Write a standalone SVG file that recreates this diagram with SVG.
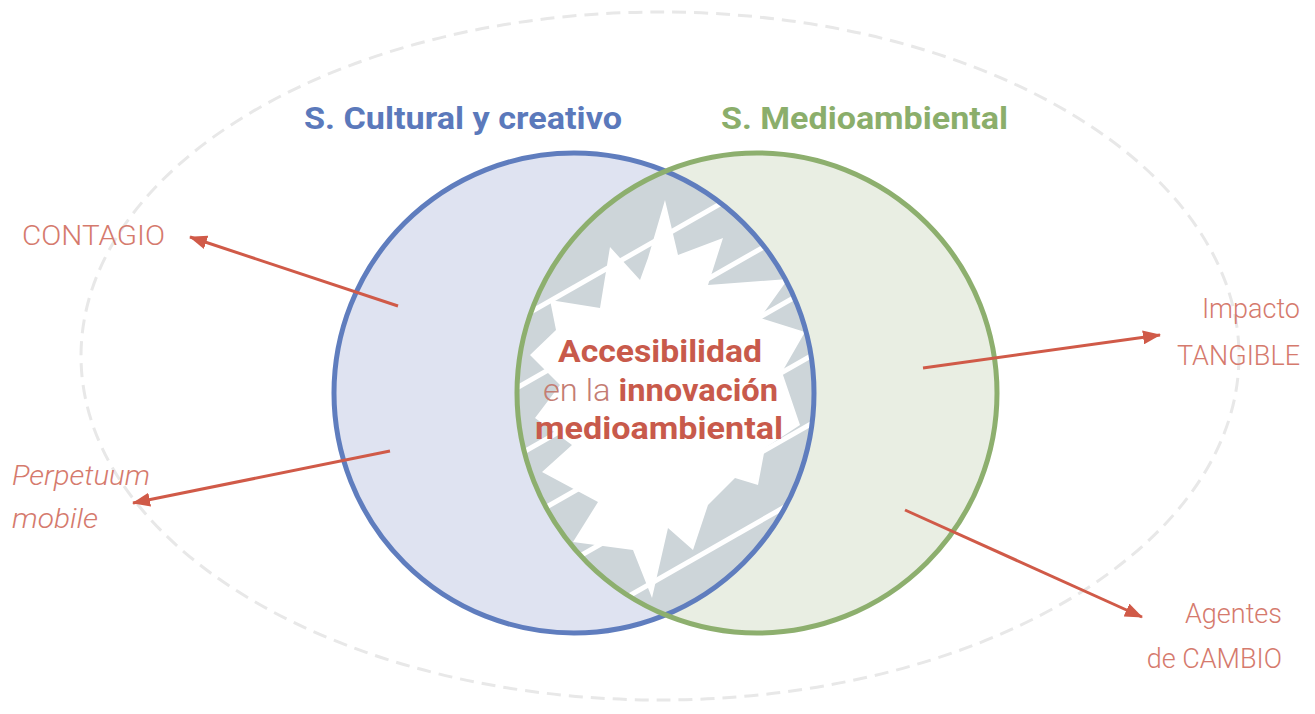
<svg xmlns="http://www.w3.org/2000/svg" width="1315" height="714" viewBox="0 0 1315 714">
<style>
.title{font-family:Roboto,"Liberation Sans",sans-serif;font-weight:700;font-size:32px}
.lbl{font-family:Roboto,"Liberation Sans",sans-serif;font-weight:300;font-size:27px;fill:#d57a6d}
.ctr{font-family:Roboto,"Liberation Sans",sans-serif;font-weight:700;font-size:31px;fill:#c85a4b;text-anchor:middle}
.thin{font-weight:300;fill:#c47d73}
.arrow{stroke:#d05a48;stroke-width:3;fill:none;marker-end:url(#ah)}
.stripe{stroke:#ffffff;stroke-width:5}
</style>
<defs>
<marker id="ah" viewBox="0 0 18 14" refX="17" refY="7" markerWidth="18" markerHeight="14" markerUnits="userSpaceOnUse" orient="auto">
<path d="M0,0 L18,7 L0,14 z" fill="#d05a48"/>
</marker>
<clipPath id="lensClip">
<path d="M665.5,171 A240,240 0 0 1 665.5,615 A240,240 0 0 1 665.5,171 Z"/>
</clipPath>
</defs>
<rect width="1315" height="714" fill="#ffffff"/>
<g id="outer">
<ellipse cx="660" cy="356" rx="579" ry="344" fill="none" stroke="#e8e8e8" stroke-width="3" stroke-dasharray="14 8"/>
</g>
<g id="sector-cultural">
<circle cx="574" cy="393" r="240" fill="#dfe3f1"/>
</g>
<g id="sector-medioambiental">
<circle cx="757" cy="393" r="240" fill="#e9eee3"/>
</g>
<g id="lens" clip-path="url(#lensClip)">
<rect x="500" y="160" width="330" height="470" fill="#cdd5d9"/>
<g class="stripe">
<line x1="480" y1="273" x2="860" y2="56"/>
<line x1="480" y1="341" x2="860" y2="124"/>
<line x1="480" y1="409" x2="860" y2="192"/>
<line x1="480" y1="477" x2="860" y2="260"/>
<line x1="480" y1="545" x2="860" y2="328"/>
<line x1="480" y1="613" x2="860" y2="396"/>
<line x1="480" y1="681" x2="860" y2="464"/>
<line x1="480" y1="749" x2="860" y2="532"/>
</g>
<polygon fill="#ffffff" points="665,200 678,255 723,238 708,285 788,279 760,318 805,332 782,372 800,425 765,448 758,485 735,478 708,505 693,550 668,528 652,598 633,550 573,542 598,502 542,472 572,445 535,418 560,385 530,355 556,330 550,300 600,308 610,247 640,280 648,258"/>
</g>
<g id="outlines" fill="none" stroke-width="5">
<circle cx="574" cy="393" r="240" stroke="#5f7dbe"/>
<circle cx="757" cy="393" r="240" stroke="#8daf6e"/>
</g>
<g id="titles">
<text class="title" x="304" y="129" fill="#5b79bb" textLength="318" lengthAdjust="spacingAndGlyphs">S. Cultural y creativo</text>
<text class="title" x="721" y="129" fill="#8bae6b" textLength="287" lengthAdjust="spacingAndGlyphs">S. Medioambiental</text>
</g>
<g id="center-label">
<text class="ctr" x="660" y="362" textLength="204" lengthAdjust="spacingAndGlyphs">Accesibilidad</text>
<text class="ctr" x="660.5" y="401" textLength="235" lengthAdjust="spacingAndGlyphs"><tspan class="thin">en la </tspan>innovación</text>
<text class="ctr" x="659" y="439" textLength="248" lengthAdjust="spacingAndGlyphs">medioambiental</text>
</g>
<g id="connectors">
<line class="arrow" x1="398" y1="306" x2="190" y2="237"/>
<line class="arrow" x1="390" y1="451" x2="133" y2="503"/>
<line class="arrow" x1="923" y1="368" x2="1160" y2="335"/>
<line class="arrow" x1="905" y1="510" x2="1142" y2="617"/>
</g>
<g id="label-contagio">
<text class="lbl" x="22" y="245" textLength="143" lengthAdjust="spacingAndGlyphs">CONTAGIO</text>
</g>
<g id="label-perpetuum">
<text class="lbl" x="12" y="485" font-style="italic" textLength="138" lengthAdjust="spacingAndGlyphs">Perpetuum</text>
<text class="lbl" x="12" y="528" font-style="italic" textLength="86" lengthAdjust="spacingAndGlyphs">mobile</text>
</g>
<g id="label-impacto">
<text class="lbl" x="1300" y="318" text-anchor="end">Impacto</text>
<text class="lbl" x="1300" y="365" text-anchor="end">TANGIBLE</text>
</g>
<g id="label-agentes">
<text class="lbl" x="1282" y="623" text-anchor="end">Agentes</text>
<text class="lbl" x="1282" y="668" text-anchor="end">de CAMBIO</text>
</g>
</svg>
